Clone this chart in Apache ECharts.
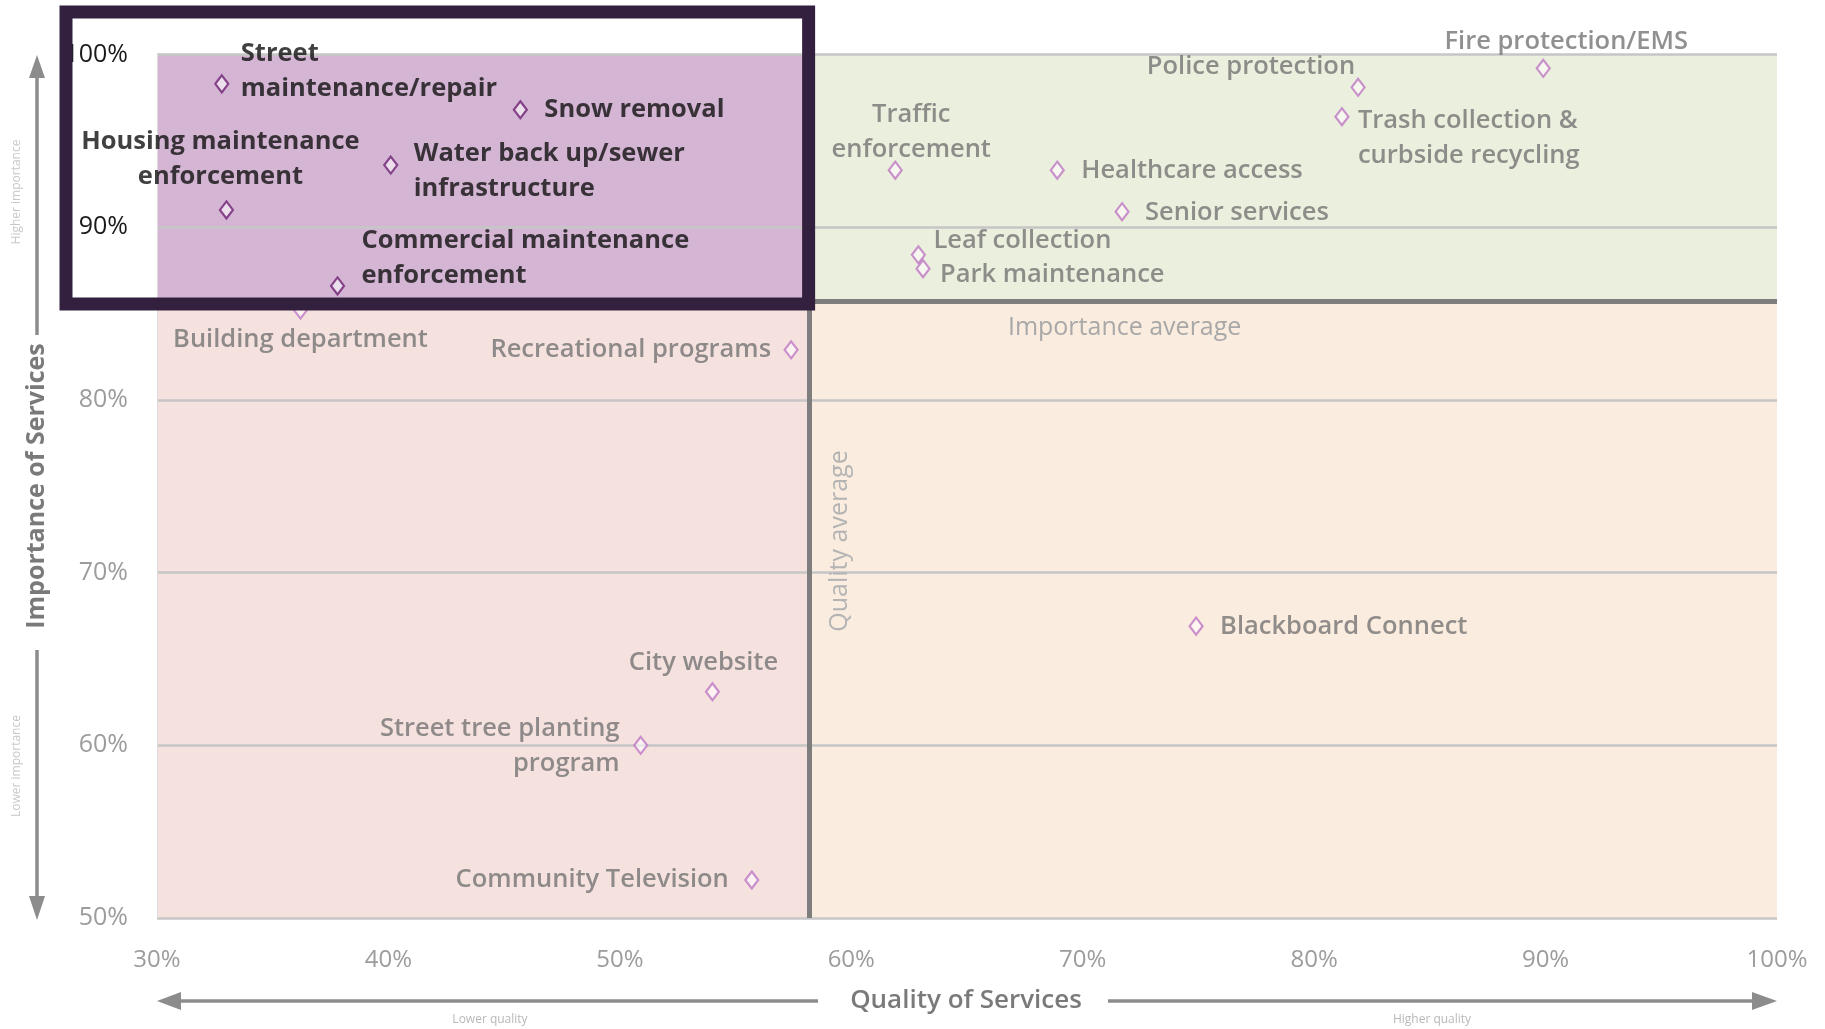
<!DOCTYPE html>
<html><head><meta charset="utf-8">
<script src="https://cdn.jsdelivr.net/npm/echarts@6/dist/echarts.min.js"></script>
<style>html,body{margin:0;padding:0;background:#fff}#c{width:1825px;height:1029px}</style>
</head><body><div id="c"></div>
<script>
// ---- data ----
const services = [
  'Street\nmaintenance/repair',
  'Snow removal',
  'Housing maintenance\nenforcement',
  'Water back up/sewer\ninfrastructure',
  'Commercial maintenance\nenforcement',
  'Building department',
  'Recreational programs',
  'City website',
  'Street tree planting\nprogram',
  'Community Television',
  'Blackboard Connect',
  'Fire protection/EMS',
  'Police protection',
  'Trash collection &\ncurbside recycling',
  'Traffic\nenforcement',
  'Healthcare access',
  'Senior services',
  'Leaf collection',
  'Park maintenance'
];
const quality = [32.8, 45.7, 33.0, 40.1, 37.8, 36.2, 57.4, 54.0, 50.9, 55.7, 74.9, 89.9, 81.9, 81.2, 61.9, 68.9, 71.7, 62.9, 63.1];
const importance = [98.3, 96.8, 91.0, 93.6, 86.6, 85.2, 82.9, 63.1, 60.0, 52.2, 66.9, 99.2, 98.1, 96.4, 93.3, 93.3, 90.9, 88.4, 87.6];
const qualityAverage = 58.2;
const importanceAverage = 85.7;
const xAxisRange = [30, 100];
const yAxisRange = [50, 100];
const tickStep = 10;

// ---- label placement (style only): [dx, dy, align] ----
const labelPlace = [
  [19, -13, 'left'], [24, 0, 'left'], [-6, -51, 'center'], [23, 6, 'left'], [24, -28, 'left'],
  [0, 30, 'center'], [-20, 0, 'right'], [-9, -29, 'center'], [-21, 1, 'right'], [-23, 0, 'right'],
  [24, 1, 'left'], [23, -27, 'center'], [-3, -21, 'right'], [16, 22, 'left'], [16, -38, 'center'],
  [24, 1, 'left'], [23, 1, 'left'], [15, -14, 'left'], [17, 6, 'left']
];

const FONT = '"Open Sans", "Noto Sans", sans-serif';
const chart = echarts.init(document.getElementById('c'), null, {renderer: 'canvas'});

const data = services.map((name, i) => {
  const inFocus = quality[i] < qualityAverage && importance[i] > importanceAverage;
  const p = labelPlace[i];
  return {
    name: name,
    value: [quality[i], importance[i]],
    itemStyle: {
      color: 'rgba(255,255,255,0.7)',
      borderColor: inFocus ? '#6e1f73' : '#bf78c4',
      borderWidth: 2.2
    },
    label: {
      show: true,
      formatter: '{b}',
      position: 'inside',
      offset: [p[0], p[1]],
      align: p[2],
      verticalAlign: 'middle',
      color: inFocus ? '#101010' : '#747474',
      fontFamily: FONT,
      fontWeight: inFocus ? 700 : 600,
      fontSize: 25.5,
      lineHeight: 35
    }
  };
});

const option = {
  backgroundColor: '#ffffff',
  animation: false,
  grid: {left: 157, right: 48, top: 54.5, bottom: 111},
  xAxis: {
    type: 'value', min: xAxisRange[0], max: xAxisRange[1], interval: tickStep,
    axisLine: {show: false}, axisTick: {show: false}, splitLine: {show: false},
    axisLabel: {formatter: '{value}%', color: '#9c9c9c', fontFamily: FONT, fontSize: 24, margin: 30}
  },
  yAxis: {
    type: 'value', min: yAxisRange[0], max: yAxisRange[1], interval: tickStep, z: 1.5,
    axisLine: {show: true, lineStyle: {color: '#dcdcdc', width: 1}}, axisTick: {show: false},
    splitLine: {show: true, lineStyle: {color: '#c6c6c6', width: 2.5}},
    axisLabel: {
      formatter: '{value}%', fontFamily: FONT, fontSize: 25, margin: 29,
      color: function (v) { return Number(v) >= 90 ? '#1a1a1a' : '#9c9c9c'; }
    }
  },
  series: [{
    type: 'scatter',
    symbol: 'diamond',
    symbolSize: [13, 17],
    data: data,
    silent: true,
    markArea: {
      silent: true,
      data: [
        [{xAxis: xAxisRange[0], yAxis: importanceAverage, itemStyle: {color: '#d4b6d4'}}, {xAxis: qualityAverage, yAxis: yAxisRange[1]}],
        [{xAxis: qualityAverage, yAxis: importanceAverage, itemStyle: {color: '#ebefdd'}}, {xAxis: xAxisRange[1], yAxis: yAxisRange[1]}],
        [{xAxis: xAxisRange[0], yAxis: yAxisRange[0], itemStyle: {color: '#f5e2df'}}, {xAxis: qualityAverage, yAxis: importanceAverage}],
        [{xAxis: qualityAverage, yAxis: yAxisRange[0], itemStyle: {color: '#faecde'}}, {xAxis: xAxisRange[1], yAxis: importanceAverage}]
      ]
    },
    markLine: {
      silent: true,
      symbol: 'none',
      label: {show: false},
      lineStyle: {color: '#7e7e7e', width: 5, type: 'solid'},
      data: [{xAxis: qualityAverage}, {yAxis: importanceAverage}]
    }
  }]
};
chart.setOption(option);

const pa = chart.convertToPixel({gridIndex: 0}, [qualityAverage, importanceAverage]);
const px = pa[0], py = pa[1];
const ARROW = '#8c8c8c';
function txt(x, y, text, size, color, weight, rot) {
  return {type: 'text', x: x, y: y, rotation: rot || 0, z: 10,
    style: {text: text, fill: color, fontSize: size, fontWeight: weight || 'normal', fontFamily: FONT, align: 'center', verticalAlign: 'middle'}};
}
chart.setOption({
  graphic: [
    // focus box around the high-importance / low-quality quadrant
    {type: 'rect', z: 100, shape: {x: 66, y: 12, width: px - 1 - 66, height: py + 2.5 - 12},
      style: {fill: null, stroke: '#33203f', lineWidth: 13}},
    // y direction arrows
    {type: 'line', z: 10, shape: {x1: 37, y1: 72, x2: 37, y2: 335}, style: {stroke: ARROW, lineWidth: 3.5}},
    {type: 'polygon', z: 10, shape: {points: [[37, 55], [29, 78], [45, 78]]}, style: {fill: ARROW}},
    {type: 'line', z: 10, shape: {x1: 37, y1: 650, x2: 37, y2: 900}, style: {stroke: ARROW, lineWidth: 3.5}},
    {type: 'polygon', z: 10, shape: {points: [[37, 920], [29, 896], [45, 896]]}, style: {fill: ARROW}},
    // x direction arrows
    {type: 'line', z: 10, shape: {x1: 176, y1: 1001, x2: 818, y2: 1001}, style: {stroke: ARROW, lineWidth: 3.5}},
    {type: 'polygon', z: 10, shape: {points: [[157, 1001], [181, 992], [181, 1010]]}, style: {fill: ARROW}},
    {type: 'line', z: 10, shape: {x1: 1108, y1: 1001, x2: 1756, y2: 1001}, style: {stroke: ARROW, lineWidth: 3.5}},
    {type: 'polygon', z: 10, shape: {points: [[1777, 1001], [1752, 992], [1752, 1010]]}, style: {fill: ARROW}},
    // axis titles
    txt(966, 1001, 'Quality of Services', 26, '#7a7a7a', 600),
    txt(37, 486, 'Importance of Services', 25, '#7a7a7a', 'bold', Math.PI / 2),
    txt(490, 1020, 'Lower quality', 12, '#b8b8b8'),
    txt(1432, 1020, 'Higher quality', 12, '#b8b8b8'),
    txt(17, 192, 'Higher importance', 12, '#c8c8c8', 'normal', Math.PI / 2),
    txt(17, 766, 'Lower importance', 12, '#c8c8c8', 'normal', Math.PI / 2),
    // average annotations
    txt(px + 315, py + 26, 'Importance average', 25, '#a8a8a8'),
    txt(px + 30, 541, 'Quality average', 25, '#b4b4b4', 'normal', Math.PI / 2)
  ]
});
</script>
</body></html>
